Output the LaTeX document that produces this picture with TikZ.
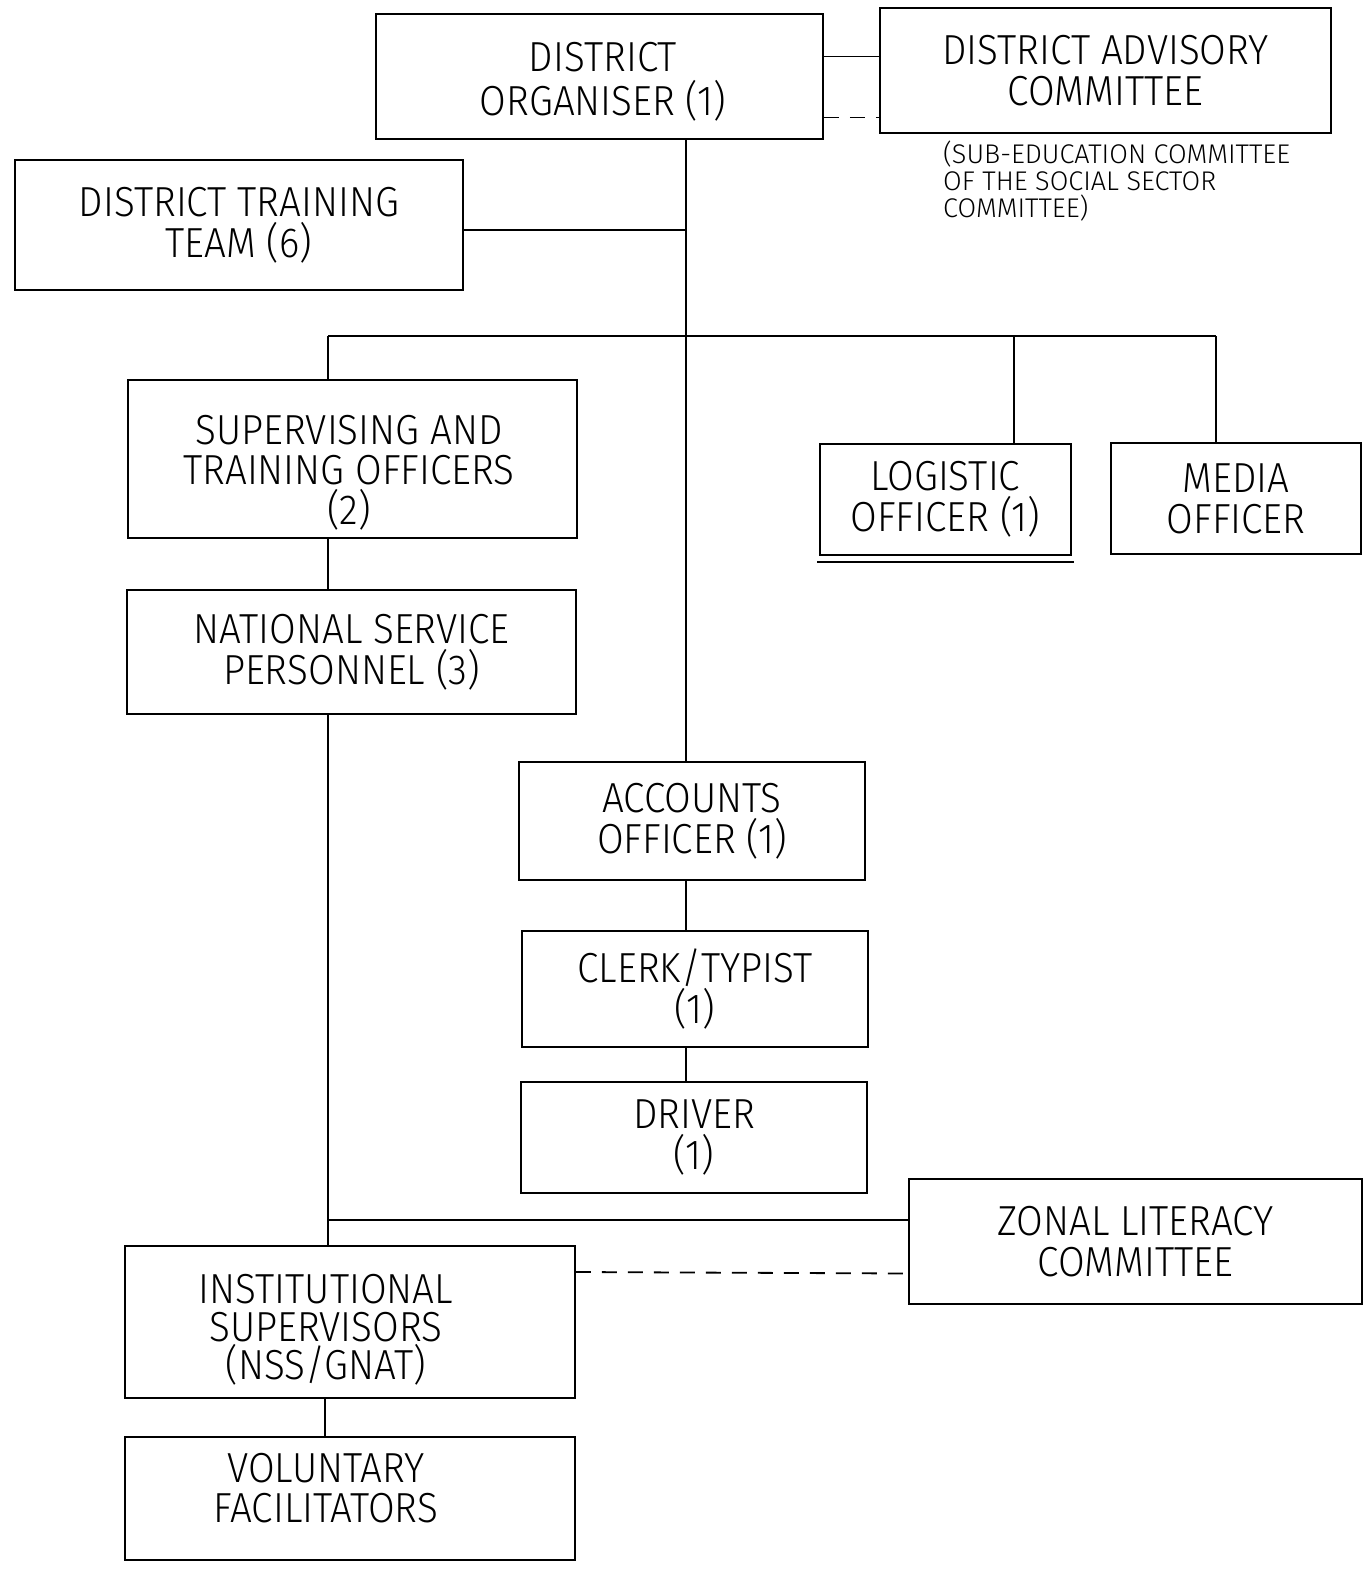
\documentclass[tikz,border=0pt]{standalone}
\usepackage{fontspec}
\setmainfont{Fira Sans Light}[FakeStretch=0.92]
\newfontfamily\subfont{Fira Sans Light}
\usetikzlibrary{calc}
\begin{document}
\begin{tikzpicture}[x=1pt,y=-1pt,
  box/.style={draw, line width=1.6pt, inner sep=0pt, align=center,
    font=\fontsize{42}{41}\selectfont},
  txt/.style={inner sep=0pt, align=center, font=\fontsize{42}{40}\selectfont},
  conn/.style={line width=1.8pt},
  dconn/.style={line width=1.8pt, dash pattern=on 15pt off 11pt}]
\useasboundingbox (0,0) rectangle (1367,1571);
\node[box, minimum width=447, minimum height=125] (DO) at (599.5,76.5) {};
\node[txt, font=\fontsize{42}{44}\selectfont] (DOt) at (603,82) {DISTRICT\\ORGANISER (1)};
\node[box, minimum width=451, minimum height=125] (DAC) at (1105.5,70.5) {DISTRICT ADVISORY\\COMMITTEE};
\node[anchor=north west, align=left, inner sep=0pt, font=\subfont\fontsize{27}{27}\selectfont] (SUB) at (943,141) {(SUB-EDUCATION COMMITTEE\\OF THE SOCIAL SECTOR\\COMMITTEE)};
\node[box, minimum width=448, minimum height=130] (DTT) at (239,225) {DISTRICT TRAINING\\TEAM (6)};
\node[box, minimum width=449, minimum height=158] (STO) at (352.5,459) {};
\node[txt] (STOt) at (349,473) {SUPERVISING AND\\TRAINING OFFICERS\\(2)};
\node[box, minimum width=251, minimum height=111] (LO) at (945.5,499.5) {LOGISTIC\\OFFICER (1)};
\node[box, minimum width=250, minimum height=111] (MO) at (1236,498.5) {MEDIA\\OFFICER};
\node[box, minimum width=449, minimum height=124] (NSP) at (351.5,652) {NATIONAL SERVICE\\PERSONNEL (3)};
\node[box, minimum width=346, minimum height=118] (AO) at (692,821) {ACCOUNTS\\OFFICER (1)};
\node[box, minimum width=346, minimum height=116] (CT) at (695,989) {CLERK/TYPIST\\(1)};
\node[box, minimum width=346, minimum height=111] (DR) at (694,1137.5) {DRIVER\\(1)};
\node[box, minimum width=453, minimum height=125] (ZLC) at (1135.5,1241.5) {ZONAL LITERACY\\COMMITTEE};
\node[box, minimum width=450, minimum height=152] (IS) at (350,1322) {};
\node[txt, font=\fontsize{42}{38}\selectfont] (ISt) at (326,1330) {INSTITUTIONAL\\SUPERVISORS\\(NSS/GNAT)};
\node[box, minimum width=450, minimum height=123] (VF) at (350,1498.5) {};
\node[txt] (VFt) at (326,1488) {VOLUNTARY\\FACILITATORS};
% junction coordinates
\coordinate (tA) at (686,230);
\coordinate (tB) at (686,336);
\coordinate (hL) at (328,336);
\coordinate (hLO) at (1014,336);
\coordinate (hMO) at (1216,336);
\coordinate (zj) at (328,1220);
% connectors
\draw[conn] ($(DO.east)+(0,-20)$) -- ($(DAC.west)+(0,-14)$);
\draw[dconn] ($(DO.east)+(0,41)$) -- ($(DAC.west)+(0,47)$);
\draw[conn] (DO.south -| tB) -- (AO.north -| tB);
\draw[conn] (DTT.east |- tA) -- (tA);
\draw[conn] (hL) -- (hMO);
\draw[conn] (hL) -- (STO.north -| hL);
\draw[conn] (hLO) -- (LO.north -| hLO);
\draw[conn] (hMO) -- (MO.north -| hMO);
\draw[conn] (STO.south -| hL) -- (NSP.north -| hL);
\draw[conn] (NSP.south -| hL) -- (IS.north -| hL);
\draw[conn] (zj) -- (ZLC.west |- zj);
\draw[dconn] ($(IS.east)+(0,-50)$) -- ($(ZLC.west)+(0,32)$);
\draw[conn] (AO.south -| tB) -- (CT.north -| tB);
\draw[conn] (CT.south -| tB) -- (DR.north -| tB);
\draw[conn] ($(IS.south)+(-25,0)$) -- ($(VF.north)+(-25,0)$);
\draw[line width=2.4pt] ($(LO.south west)+(-2,6)$) -- ($(LO.south east)+(2,6)$);
\end{tikzpicture}
\end{document}
